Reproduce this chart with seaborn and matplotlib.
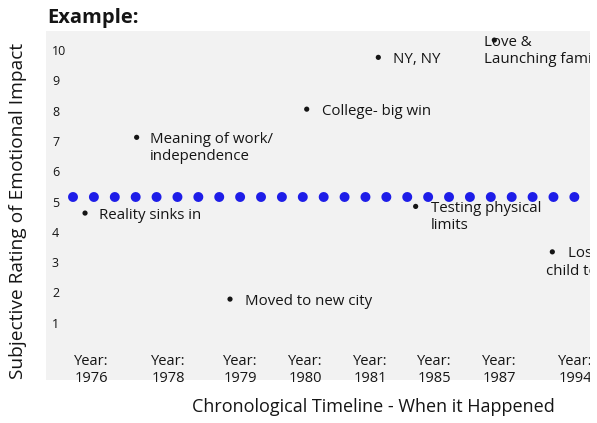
import matplotlib
matplotlib.use("Agg")
import matplotlib.pyplot as plt
import seaborn as sns
import pandas as pd
from matplotlib.transforms import Bbox, TransformedBbox

# ---------------- data ----------------
event_labels = ["Reality sinks in", "Meaning of work/\nindependence", "Moved to new city",
                "College- big win", "NY, NY", "Testing physical\nlimits",
                "Love &\nLaunching family", "Lost a\nchild too soon"]
event_pos = [0.574, 1.333, 2.706, 3.834, 4.887, 5.436, 6.593, 7.446]   # timeline position
event_rating = [4.62, 7.12, 1.78, 8.05, 9.76, 4.84, 10.33, 3.34]

year_labels = ["1976", "1978", "1979", "1980", "1981", "1985", "1987", "1994"]
year_pos = [0.669, 1.801, 2.853, 3.816, 4.765, 5.706, 6.662, 7.779]

baseline_x = [0.397, 8.3]
baseline_y = [5.16, 5.16]

y_ticks = [1, 2, 3, 4, 5, 6, 7, 8, 9, 10]

# ---------------- style ----------------
sns.set_theme(style="white")
FONT = ["Open Sans", "DejaVu Sans"]
plt.rcParams["font.family"] = FONT
TXT = "#151515"
PANEL = "#f2f2f2"
BLUE = "#1e1de8"

# offsets in pixels: first-line dx, other-lines dx
first_dx = [14, 13, 15, 15, 15, 15, -10, 16]
rest_dx = [14, 13, 15, 15, 15, 15, -10, -6]
LINE_H = 17.5

W, H = 597, 423
fig = plt.figure(figsize=(W / 100, H / 100), dpi=100)
ax = fig.add_axes([46 / W, 1 - 380 / H, 544 / W, 349 / H])
ax.set_facecolor(PANEL)
for s in ax.spines.values():
    s.set_visible(False)

ax.set_xlim(0, 8)
ax.set_ylim(-0.89, 10.63)

# dotted baseline
sns.lineplot(x=baseline_x, y=baseline_y, ax=ax, color=BLUE, linewidth=7.2,
             linestyle=(0, (0.001, 2.088)), dash_capstyle="round")

# event bullets
df = pd.DataFrame({"pos": event_pos, "rating": event_rating, "label": event_labels})
sns.scatterplot(data=df, x="pos", y="rating", ax=ax, color=TXT, s=14,
                edgecolor="none", zorder=5)

clipbox = TransformedBbox(Bbox([[0, -0.3], [1, 1.3]]), ax.transAxes)

for i, (lab, x, y) in enumerate(zip(event_labels, event_pos, event_rating)):
    for j, line in enumerate(lab.split("\n")):
        dx = first_dx[i] if j == 0 else rest_dx[i]
        t = ax.annotate(line, xy=(x, y), xytext=(dx, -j * LINE_H),
                        textcoords="offset pixels", ha="left", va="center_baseline",
                        fontsize=10.8, fontweight="medium", color=TXT, annotation_clip=False)
        t.set_clip_on(True)
        t.set_clip_box(clipbox)

# year labels inside panel
for yr, x in zip(year_labels, year_pos):
    t = ax.text(x, 0.029, "Year:\n" + yr, transform=ax.get_xaxis_transform(),
                ha="center", va="center", multialignment="center",
                fontsize=10.5, fontweight="medium", color=TXT, linespacing=1.2)
    t.set_clip_on(True)
    t.set_clip_box(clipbox)

# y ticks inside panel
ax.set_yticks(y_ticks)
ax.set_yticklabels([str(v) for v in y_ticks], fontsize=9, fontweight="medium", color=TXT)
ax.tick_params(axis="y", length=0, pad=-4.3)
for lbl in ax.get_yticklabels():
    lbl.set_horizontalalignment("left")
ax.set_xticks([])
ax.set_xlabel("")
ax.set_ylabel("")

fig.text(18 / W, 1 - 211 / H, "Subjective Rating of Emotional Impact", rotation=90,
         ha="center", va="center", fontsize=13.8, fontweight="medium", color=TXT)
fig.text(373 / W, 1 - 407 / H, "Chronological Timeline - When it Happened",
         ha="center", va="center", fontsize=13, fontweight="medium", color=TXT)
fig.text(47 / W, 1 - 18 / H, "Example:", ha="left", va="center",
         fontsize=14.5, fontweight="bold", color=TXT)

fig.savefig("out.png", dpi=100, facecolor="white")
